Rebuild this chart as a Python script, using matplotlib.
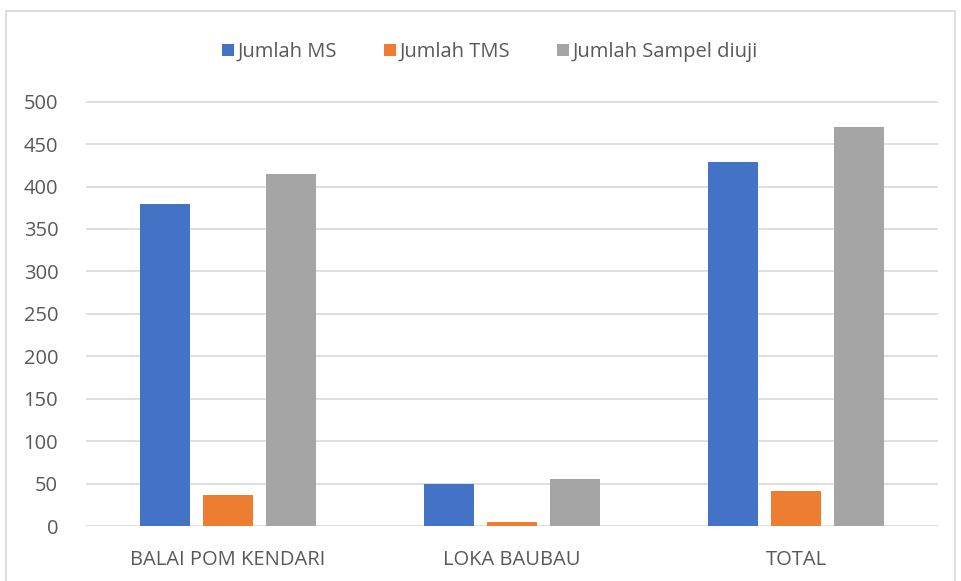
import matplotlib

matplotlib.use("Agg")
import matplotlib.pyplot as plt
import numpy as np
from matplotlib.patches import Rectangle

# Data
categories = ["BALAI POM KENDARI", "LOKA BAUBAU", "TOTAL"]
series_names = ["Jumlah MS", "Jumlah TMS", "Jumlah Sampel diuji"]
jumlah_ms = [379, 50, 429]
jumlah_tms = [36, 5, 41]
jumlah_sampel = [415, 55, 470]
yticks = [0, 50, 100, 150, 200, 250, 300, 350, 400, 450, 500]

colors = ["#4472C4", "#ED7D31", "#A5A5A5"]
text_color = "#595959"
grid_color = "#D9D9D9"

plt.rcParams["font.family"] = ["Open Sans", "DejaVu Sans"]
fs = 14.5

fig = plt.figure(figsize=(9.61, 5.81), dpi=100)
fig.patch.set_facecolor("white")
# outer chart frame
fig.patches.append(Rectangle((6 / 961, -0.05), 949 / 961, 1 - 11 / 581 + 0.05,
                             transform=fig.transFigure, fill=False,
                             edgecolor=grid_color, linewidth=1.2))

ax = fig.add_axes((86 / 961, 55 / 581, 852 / 961, 424 / 581 + 2 / 581))
x = np.arange(len(categories))
width = 0.173
step = 0.222
for i, (vals, name) in enumerate(zip([jumlah_ms, jumlah_tms, jumlah_sampel], series_names)):
    ax.bar(x + (i - 1) * step, vals, width, color=colors[i], label=name, zorder=3)

ax.set_xlim(-0.5, 2.5)
ax.set_ylim(0, 502)
ax.set_yticks(yticks)
ax.set_xticks(x)
ax.set_xticklabels(categories)
ax.grid(axis="y", color=grid_color, linewidth=1.2, zorder=0)
for s in ax.spines.values():
    s.set_visible(False)
ax.tick_params(axis="both", length=0, labelsize=fs, colors=text_color)
ax.tick_params(axis="x", pad=17)
ax.tick_params(axis="y", pad=20)

leg = fig.legend(loc="center", bbox_to_anchor=(0.51, 1 - 52 / 581), ncol=3, frameon=False,
                 fontsize=fs, handlelength=0.6, handleheight=0.6, handletextpad=0.2,
                 columnspacing=2.3, labelcolor=text_color)

fig.savefig("out.png", dpi=100)
